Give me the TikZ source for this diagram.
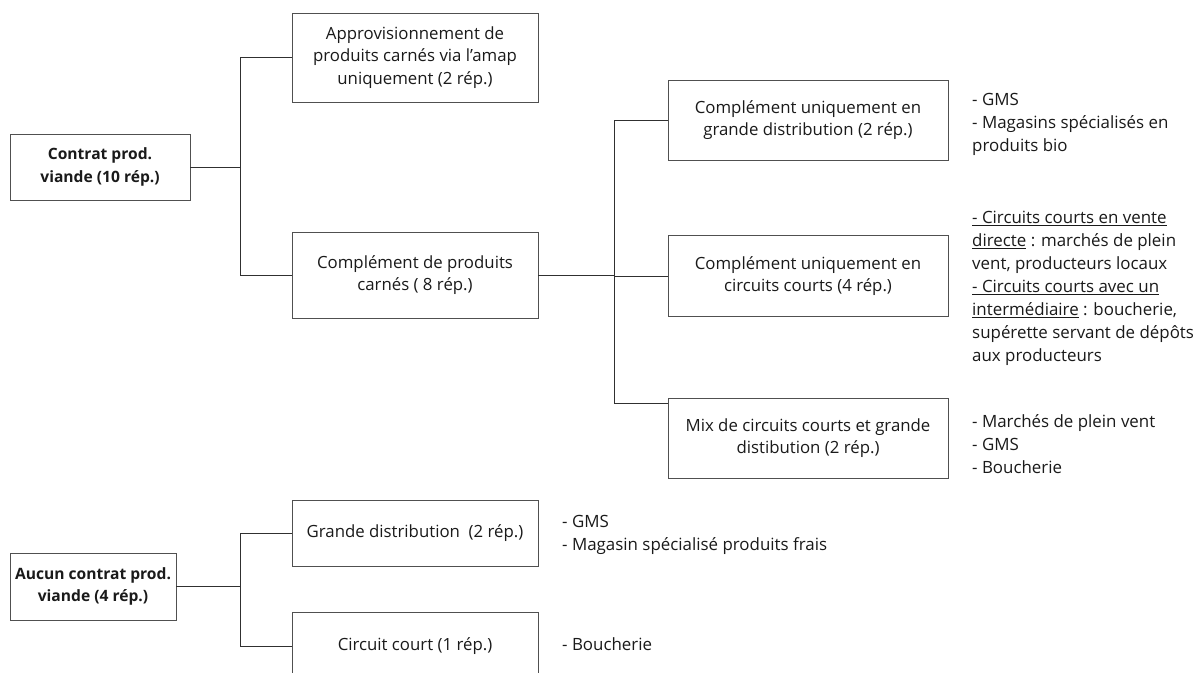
\documentclass[tikz,border=0pt]{standalone}
\usepackage{fontspec}
\setmainfont{Open Sans}
\definecolor{boxgray}{HTML}{505050}
\definecolor{linegray}{HTML}{303030}
\definecolor{txt}{HTML}{1A1A1A}
\begin{document}
\begin{tikzpicture}[x=1pt,y=-1pt,
  box/.style={draw=boxgray, line width=0.8pt, align=center, inner sep=0pt, text=txt,
    font=\fontsize{16.8}{22.5}\selectfont},
  boldbox/.style={box, font=\fontsize{15.6}{22.5}\selectfont\bfseries},
  link/.style={draw=linegray, line width=0.9pt},
  list/.style={anchor=north west, align=left, inner sep=0pt, text=txt,
    font=\fontsize{16.9}{23}\selectfont}]
\useasboundingbox[fill=white] (0,0) rectangle (1204,672);

\node[boldbox, minimum width=180pt, minimum height=66pt] (A) at (100,167) {Contrat prod.\\viande (10 rép.)};
\node[box, minimum width=246pt, minimum height=89pt] (B) at (415,57.5) {Approvisionnement de\\produits carnés via l’amap\\uniquement (2 rép.)};
\node[box, minimum width=246pt, minimum height=86pt] (C) at (415,275) {Complément de produits\\carnés ( 8 rép.)};
\node[box, minimum width=280pt, minimum height=80pt] (D) at (808,120) {Complément uniquement en\\grande distribution (2 rép.)};
\node[box, minimum width=280pt, minimum height=81pt] (E) at (808,276) {Complément uniquement en\\circuits courts (4 rép.)};
\node[box, minimum width=280pt, minimum height=80pt] (F) at (808,438) {Mix de circuits courts et grande\\distibution (2 rép.)};
\node[boldbox, minimum width=166pt, minimum height=67pt] (G) at (93,586.5) {Aucun contrat prod.\\viande (4 rép.)};
\node[box, minimum width=246pt, minimum height=66pt] (H) at (415,533) {Grande distribution~ (2 rép.)};
\node[box, minimum width=246pt, minimum height=68pt] (I) at (415,646) {Circuit court (1 rép.)};

\coordinate (j1) at (240,167);
\coordinate (j2) at (614,275);
\coordinate (j3) at (240,586.5);
\draw[link] (A.east) -- (j1);
\draw[link] (j1) |- (B.west);
\draw[link] (j1) |- (C.west);
\draw[link] (C.east) -- (j2);
\draw[link] (j2) |- (D.west);
\draw[link] (j2) |- (E.west);
\draw[link] (j2) |- ([yshift=-6pt]F.north west);
\draw[link] (G.east) -- (j3);
\draw[link] (j3) |- (H.west);
\draw[link] (j3) |- (I.west);

\node[list] (L1) at (972,89) {\strut- GMS\\- Magasins spécialisés en\\produits bio};
\node[list] (L2) at (972,207) {\strut\underline{- Circuits courts en vente}\\\underline{directe} : marchés de plein\\vent, producteurs locaux\\\underline{- Circuits courts avec un}\\\underline{intermédiaire} : boucherie,\\supérette servant de dépôts\\aux producteurs};
\node[list] (L3) at (972,411) {\strut- Marchés de plein vent\\- GMS\\- Boucherie};
\node[list] (L4) at (562,511) {\strut- GMS\\- Magasin spécialisé produits frais};
\node[list] (L5) at (562,634) {\strut- Boucherie};
\end{tikzpicture}
\end{document}
